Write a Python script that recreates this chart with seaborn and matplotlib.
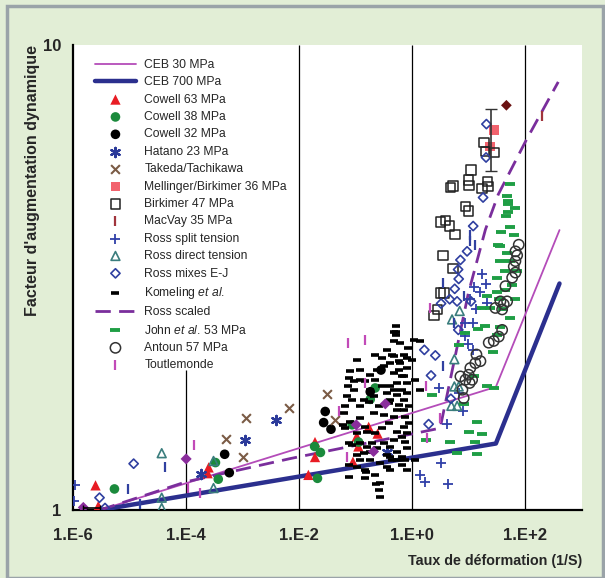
import seaborn as sns
import matplotlib.pyplot as plt

sns.set_style("white")
plt.rcParams['font.family'] = ['Liberation Sans', 'DejaVu Sans']
plt.rcParams['mathtext.fontset'] = 'custom'
plt.rcParams['mathtext.rm'] = 'Liberation Sans'
plt.rcParams['mathtext.it'] = 'Liberation Sans:italic'

"""Courbes"""
ceb30_x = [3e-6, 30, 400]
ceb30_y = [1.0, 1.84, 4.0]
ceb700_x = [3e-6, 30, 400]
ceb700_y = [1.0, 1.39, 3.07]
ross_scaled_x = [3e-6, 1e-4, 6.9e-3, 1.39, 3.1, 4.7, 9.8, 19.6, 33, 100, 380]
ross_scaled_y = [1.0, 1.15, 1.29, 1.47, 1.50, 1.91, 2.93, 4.01, 4.77, 6.2, 8.33]

"""Points de mesure"""
cowell63_x = [2.5e-6, 2.8e-6, 2.5e-4, 2.4e-4, 0.019, 0.019, 0.0145, 0.089, 0.104, 0.111, 0.169, 0.243]
cowell63_y = [1.13, 1.02, 1.235, 1.20, 1.40, 1.30, 1.19, 1.27, 1.44, 1.37, 1.51, 1.46]

cowell38_x = [5.4e-6, 3.7e-4, 3.3e-4, 0.0187, 0.0237, 0.021, 0.086, 0.112, 0.18, 0.22]
cowell38_y = [1.11, 1.165, 1.265, 1.37, 1.33, 1.17, 1.525, 1.40, 1.73, 1.83]

cowell32_x = [4.8e-4, 5.8e-4, 0.0288, 0.027, 0.0364, 0.279, 0.18]
cowell32_y = [1.318, 1.203, 1.629, 1.542, 1.492, 2.0, 1.796]

hatano_x = [1.8e-4, 1.1e-3, 3.9e-3, 0.355]
hatano_y = [1.196, 1.413, 1.563, 1.336]

takeda_x = [5.0e-4, 1.14e-3, 1.03e-3, 6.5e-3, 0.031, 0.043]
takeda_y = [1.42, 1.58, 1.30, 1.656, 1.775, 1.56]

mellinger_x = [27.9, 24.0]
mellinger_y = [6.57, 6.05]

birkimer_x = [18.4, 19.8, 28.0, 10.9, 9.9, 4.7, 5.2, 10.1, 17.1, 21.2, 21.9, 8.7,
              9.9, 3.13, 3.84, 4.57, 5.7, 3.49, 5.21, 3.13, 3.61, 2.40, 2.77]
birkimer_y = [6.18, 5.90, 5.88, 5.39, 5.13, 4.94, 4.98, 4.99, 4.91, 5.09, 4.97, 4.50,
              4.40, 4.16, 4.19, 4.08, 3.91, 3.53, 3.31, 2.93, 2.93, 2.62, 2.70]

macvay_x = [198]
macvay_y = [7.04]

ross_split_x = [1.08e-6, 1.04e-6, 17.1, 20.4, 16.0, 12.5, 21.2, 10.6, 13.6, 8.43, 11.9,
                9.5, 11.9, 8.67, 6.6, 3.0, 7.9, 4.11, 3.26, 1.35, 1.70, 4.22]
ross_split_y = [1.132, 1.047, 3.22, 3.07, 2.945, 3.01, 2.79, 2.84, 2.70, 2.53, 2.53,
                2.27, 2.21, 2.37, 1.784, 1.826, 1.629, 1.532, 1.261, 1.19, 1.147, 1.138]

ross_direct_x = [3.7e-5, 3.7e-5, 3.7e-5, 3.05e-4, 3.05e-4, 6.87, 5.04, 5.53, 5.53, 6.6, 4.9, 6.2]
ross_direct_y = [1.325, 1.063, 1.01, 1.275, 1.115, 2.68, 2.57, 2.11, 1.844, 1.844, 1.675, 1.675]

ross_mixes_x = [1.18e-5, 2.94e-6, 3.68e-6, 20.4, 20.1, 17.8, 11.9, 9.29, 7.08, 6.44, 6.6,
                5.61, 4.57, 6.18, 10.9, 3.22, 6.5, 1.63, 2.55, 2.14, 1.94, 4.80]
ross_mixes_y = [1.258, 1.063, 1.01, 6.76, 5.73, 4.70, 4.08, 3.60, 3.45, 3.29, 3.14,
                2.99, 2.84, 2.81, 2.81, 2.78, 2.44, 2.21, 2.15, 1.947, 1.53, 1.735]

komeling_x = [0.515, 0.515, 0.48, 0.48, 0.572, 0.806, 0.589, 0.806, 0.080, 0.120,
              0.0746, 0.237, 0.221, 0.0914, 0.0698, 0.0652, 0.0608, 0.0857, 0.120, 0.1375,
              0.120, 0.147, 0.105, 0.120, 0.1375, 0.147, 0.221, 0.147, 0.271, 0.253,
              0.0746, 0.357, 0.408, 0.467, 0.536, 0.657, 0.701, 0.751, 0.536, 0.408,
              0.357, 0.408, 0.536, 0.657, 0.701, 0.292, 0.2075, 0.253, 0.31, 0.2075,
              0.169, 0.181, 0.147, 0.181, 0.31, 0.408, 0.467, 0.657, 0.806, 0.806,
              0.86, 0.86, 0.806, 0.806, 0.751, 0.657, 0.536, 0.437, 0.357, 0.237,
              0.181, 0.51, 1.05, 1.39, 0.826, 1.0, 0.614, 1.35, 1.13, 1.13,
              0.271, 0.153, 0.23, 0.271, 0.0746, 0.0746, 0.06, 0.0715, 0.105,
              0.467, 0.536, 0.38, 0.467, 0.38, 0.292, 0.221, 0.157, 0.194, 0.31,
              0.536, 0.657, 0.408, 0.181, 0.12, 0.105, 0.12, 0.0914, 0.105, 0.221,
              0.292, 0.357, 0.437, 0.614, 0.701, 0.701, 0.467, 0.572, 0.701, 0.751,
              0.157, 0.0857, 0.08, 0.0652, 0.408, 0.806]
komeling_y = [2.49, 2.38, 2.31, 2.14, 2.09, 2.12, 2.00, 2.02, 1.99, 2.00,
              1.92, 2.00, 1.906, 1.814, 1.755, 1.67, 1.616, 1.726, 1.67, 1.726,
              1.576, 1.512, 1.463, 1.392, 1.325, 1.219, 1.19, 1.17, 1.26, 1.104,
              1.18, 1.314, 1.369, 1.415, 1.475, 1.439, 1.512, 1.589, 1.643, 1.726,
              1.784, 1.844, 1.876, 1.814, 1.726, 1.844, 1.755, 1.67, 1.602, 1.616,
              1.711, 1.814, 1.89, 1.954, 2.036, 2.07, 1.97, 1.938, 1.876, 1.784,
              1.67, 1.538, 1.463, 1.358, 1.281, 1.303, 1.335, 1.281, 1.24, 1.358,
              1.281, 2.42, 2.325, 2.31, 2.23, 2.105, 2.07, 1.814, 1.906, 1.281,
              1.144, 1.21, 1.138, 1.067, 1.25, 1.394, 1.525, 1.85, 1.314,
              2.42, 1.77, 1.70, 1.589, 1.538, 1.50, 1.463, 1.475, 1.392, 1.392,
              1.281, 1.25, 1.303, 1.336, 1.281, 1.24, 1.906, 1.89, 2.105, 2.16,
              2.12, 2.21, 2.16, 2.29, 2.16, 1.938, 1.814, 1.68, 1.643, 1.40,
              1.369, 1.381, 1.55, 1.50, 1.219, 1.219]

john_x = [54.3, 47.4, 48.6, 48.6, 66.5, 48.6, 46.1, 54.3, 37.2, 62.1, 32.3, 36.1,
          47.4, 36.1, 54.3, 44.3, 71.3, 31.6, 31.6, 21.0, 33.7, 24.0, 17.1, 19.6,
          14.5, 36.1, 8.43, 31.6, 26.8, 6.6, 12.2, 21.0, 27.5, 2.23, 8.09, 14.0,
          9.9, 17.1, 1.77, 4.71, 12.7, 6.18, 14.0, 58.9, 44.3, 66.5, 40.8, 54.3]
john_y = [5.03, 4.73, 4.63, 4.54, 4.47, 4.37, 4.29, 4.07, 3.96, 3.90, 3.72, 3.69,
          3.57, 3.43, 3.43, 3.26, 3.26, 3.16, 2.95, 2.88, 2.84, 2.72, 2.72, 2.49,
          2.45, 2.48, 2.40, 2.38, 2.19, 2.26, 1.94, 1.85, 1.83, 1.77, 1.69, 1.55,
          1.475, 1.456, 1.415, 1.40, 1.40, 1.325, 1.318, 3.05, 2.98, 2.84, 2.70, 2.59]

antoun_x = [76.1, 66.5, 71.3, 66.5, 62.1, 66.5, 58.2, 44.3, 36.1, 47.4, 29.4, 38.7,
            41.3, 38.7, 27.5, 22.4, 33.7, 16.0, 13.0, 10.6, 9.9, 7.08, 8.67, 11.4,
            10.3, 8.09, 7.67, 13.6]
antoun_y = [3.72, 3.60, 3.53, 3.43, 3.34, 3.24, 3.16, 3.03, 2.81, 2.81, 2.72, 2.70,
            2.77, 2.44, 2.31, 2.29, 2.36, 2.09, 2.07, 2.02, 1.954, 1.938, 1.906, 1.906,
            1.876, 1.741, 1.814, 2.16]

toutlemonde_x = [0.072, 0.147, 0.143, 0.05, 0.0698, 1.35e-4, 1.1e-4, 1.77e-4, 2.08, 1.75, 3.04, 1.82]
toutlemonde_y = [2.29, 2.32, 1.88, 1.635, 1.303, 1.381, 1.113, 1.086, 2.72, 1.85, 1.576, 1.427]

"""Points sans légende"""
violet_x = [1e-4, 1.52e-6, 0.333, 0.102, 0.206]
violet_y = [1.288, 1.013, 1.692, 1.525, 1.336]
barre_bleue_x = [4.25e-5, 9.5e-6, 1.53e-5, 10.3, 13.0, 3.49, 8.09, 5.53, 3.49, 10.6]
barre_bleue_y = [1.24, 1.108, 1.03, 3.79, 3.72, 3.08, 2.88, 2.53, 2.04, 3.90]

fig = plt.figure(figsize=(6.05, 5.78), dpi=100, facecolor='#e2eed6')
ax = fig.add_axes([0.1207, 0.1176, 0.8413, 0.8045])
ax.set_facecolor('white')
ax.set_xscale('log')
ax.set_yscale('log')
ax.set_xlim(1e-6, 1e3)
ax.set_ylim(1, 10)

"""Lignes verticales"""
ax.vlines([1e-2, 1, 1e2], 1, 10, color='black', lw=0.9, zorder=1)
ax.vlines(1e-4, 1, 2.0, color='black', lw=0.9, zorder=1)

sns.lineplot(x=ceb30_x, y=ceb30_y, sort=False, color='#b44cb9', lw=1.3, label='CEB 30 MPa', ax=ax, zorder=3)
sns.lineplot(x=ceb700_x, y=ceb700_y, sort=False, color='#2b2f8e', lw=3.2, label='CEB 700 MPa', ax=ax, zorder=3)

series = [
    (cowell63_x, cowell63_y, 'Cowell 63 MPa', '^', '#e81c24', True, 55, 1),
    (cowell38_x, cowell38_y, 'Cowell 38 MPa', 'o', '#1b8a3c', True, 48, 1),
    (cowell32_x, cowell32_y, 'Cowell 32 MPa', 'o', '#000000', True, 48, 1),
    (hatano_x, hatano_y, 'Hatano 23 MPa', (6, 2, 0), '#2b3a9a', False, 45, 1.6),
    (takeda_x, takeda_y, 'Takeda/Tachikawa', 'x', '#7b5b45', False, 40, 1.5),
    (mellinger_x, mellinger_y, 'Mellinger/Birkimer 36 MPa', 's', '#f2636e', True, 50, 1),
    (birkimer_x, birkimer_y, 'Birkimer 47 MPa', 's', '#222222', 'open', 46, 1.1),
    (macvay_x, macvay_y, 'MacVay 35 MPa', '|', '#a0343c', False, 45, 1.6),
    (ross_split_x, ross_split_y, 'Ross split tension', '+', '#3040a8', False, 55, 1.3),
    (ross_direct_x, ross_direct_y, 'Ross direct tension', '^', '#3a7d7d', 'open', 40, 1.2),
    (ross_mixes_x, ross_mixes_y, 'Ross mixes E-J', 'D', '#2f3fa0', 'open', 22, 1.2),
    (komeling_x, komeling_y, 'Komeling $\\it{et\\ al}$.', '_', '#000000', False, 30, 2.6),
]
series2 = [
    (john_x, john_y, 'John $\\it{et\\ al}$. 53 MPa', '_', '#1f9e45', False, 55, 2.8),
    (antoun_x, antoun_y, 'Antoun 57 MPa', 'o', '#333333', 'open', 55, 1.1),
    (toutlemonde_x, toutlemonde_y, 'Toutlemonde', '|', '#c24ab8', False, 45, 1.6),
]


def draw(lst):
    for xs, ys, lab, mk, col, filled, size, lw in lst:
        if filled == 'open':
            sns.scatterplot(x=xs, y=ys, marker=mk, s=size, facecolor='none', edgecolor=col,
                            linewidth=lw, label=lab, ax=ax, zorder=4)
        elif filled:
            sns.scatterplot(x=xs, y=ys, marker=mk, s=size, color=col, edgecolor='none',
                            label=lab, ax=ax, zorder=4)
        else:
            sns.scatterplot(x=xs, y=ys, marker=mk, s=size, color=col, linewidth=lw,
                            label=lab, ax=ax, zorder=4)


draw(series)
sns.lineplot(x=ross_scaled_x, y=ross_scaled_y, sort=False, color='#7a2e9c', lw=2.0,
             dashes=(5.5, 3), label='Ross scaled', ax=ax, zorder=3)
draw(series2)

sns.scatterplot(x=violet_x, y=violet_y, marker='D', s=32, color='#8a2d9c', edgecolor='none',
                ax=ax, zorder=4, legend=False)
sns.scatterplot(x=barre_bleue_x, y=barre_bleue_y, marker='|', s=45, color='#3040a0', linewidth=1.6,
                ax=ax, zorder=4, legend=False)
sns.scatterplot(x=[46], y=[7.42], marker='D', s=30, color='#6b1212', edgecolor='none',
                ax=ax, zorder=4, legend=False)
ax.errorbar([25], [6.2], yerr=[[0.85], [1.08]], fmt='none', ecolor='#333333', capsize=4, lw=1.2, zorder=5)
ax.errorbar([2.2e-6], [1.01], xerr=[[0.7e-6], [0.8e-6]], fmt='none', ecolor='black', capsize=2, lw=1.2, zorder=5)

"""Légende"""
h, l = ax.get_legend_handles_labels()
leg = ax.legend(h, l, loc='upper left', bbox_to_anchor=(0.043, 0.970), frameon=False,
                fontsize=8.7, handlelength=3.4, handletextpad=0.7, labelspacing=0.445,
                borderpad=0, borderaxespad=0, scatterpoints=1)

"""Axes"""
for s in ['top', 'right']:
    ax.spines[s].set_visible(False)
for s in ['left', 'bottom']:
    ax.spines[s].set_color('black')
    ax.spines[s].set_linewidth(1.6)

ax.set_xticks([1e-6, 1e-4, 1e-2, 1, 1e2])
ax.set_xticklabels(['1.E-6', '1.E-4', '1.E-2', '1.E+0', '1.E+2'], fontsize=12, fontweight='bold')
ax.set_xticks([], minor=True)
ax.set_yticks([1, 10])
ax.set_yticklabels(['1', '10'], fontsize=12, fontweight='bold')
ax.set_yticks([2, 3, 4, 5, 6, 7, 8, 9], minor=True)
ax.set_yticklabels([], minor=True)
ax.tick_params(axis='x', which='major', direction='inout', length=14, width=1.5, pad=6, color='black')
ax.tick_params(axis='y', which='both', direction='inout', length=13, width=1.3, pad=2, color='black')

ax.set_xlabel('Taux de déformation (1/S)', fontsize=10.3, fontweight='bold', loc='right', labelpad=8)
ax.set_ylabel("Facteur d'augmentation dynamique", fontsize=11.5, fontweight='bold', loc='top', labelpad=2)

fig.patches.append(plt.Rectangle((0.012, 0.0), 0.985, 0.99, transform=fig.transFigure,
                                 fill=False, edgecolor='#9aa3a8', lw=2.5))

plt.savefig('out.png', dpi=100, facecolor=fig.get_facecolor())
